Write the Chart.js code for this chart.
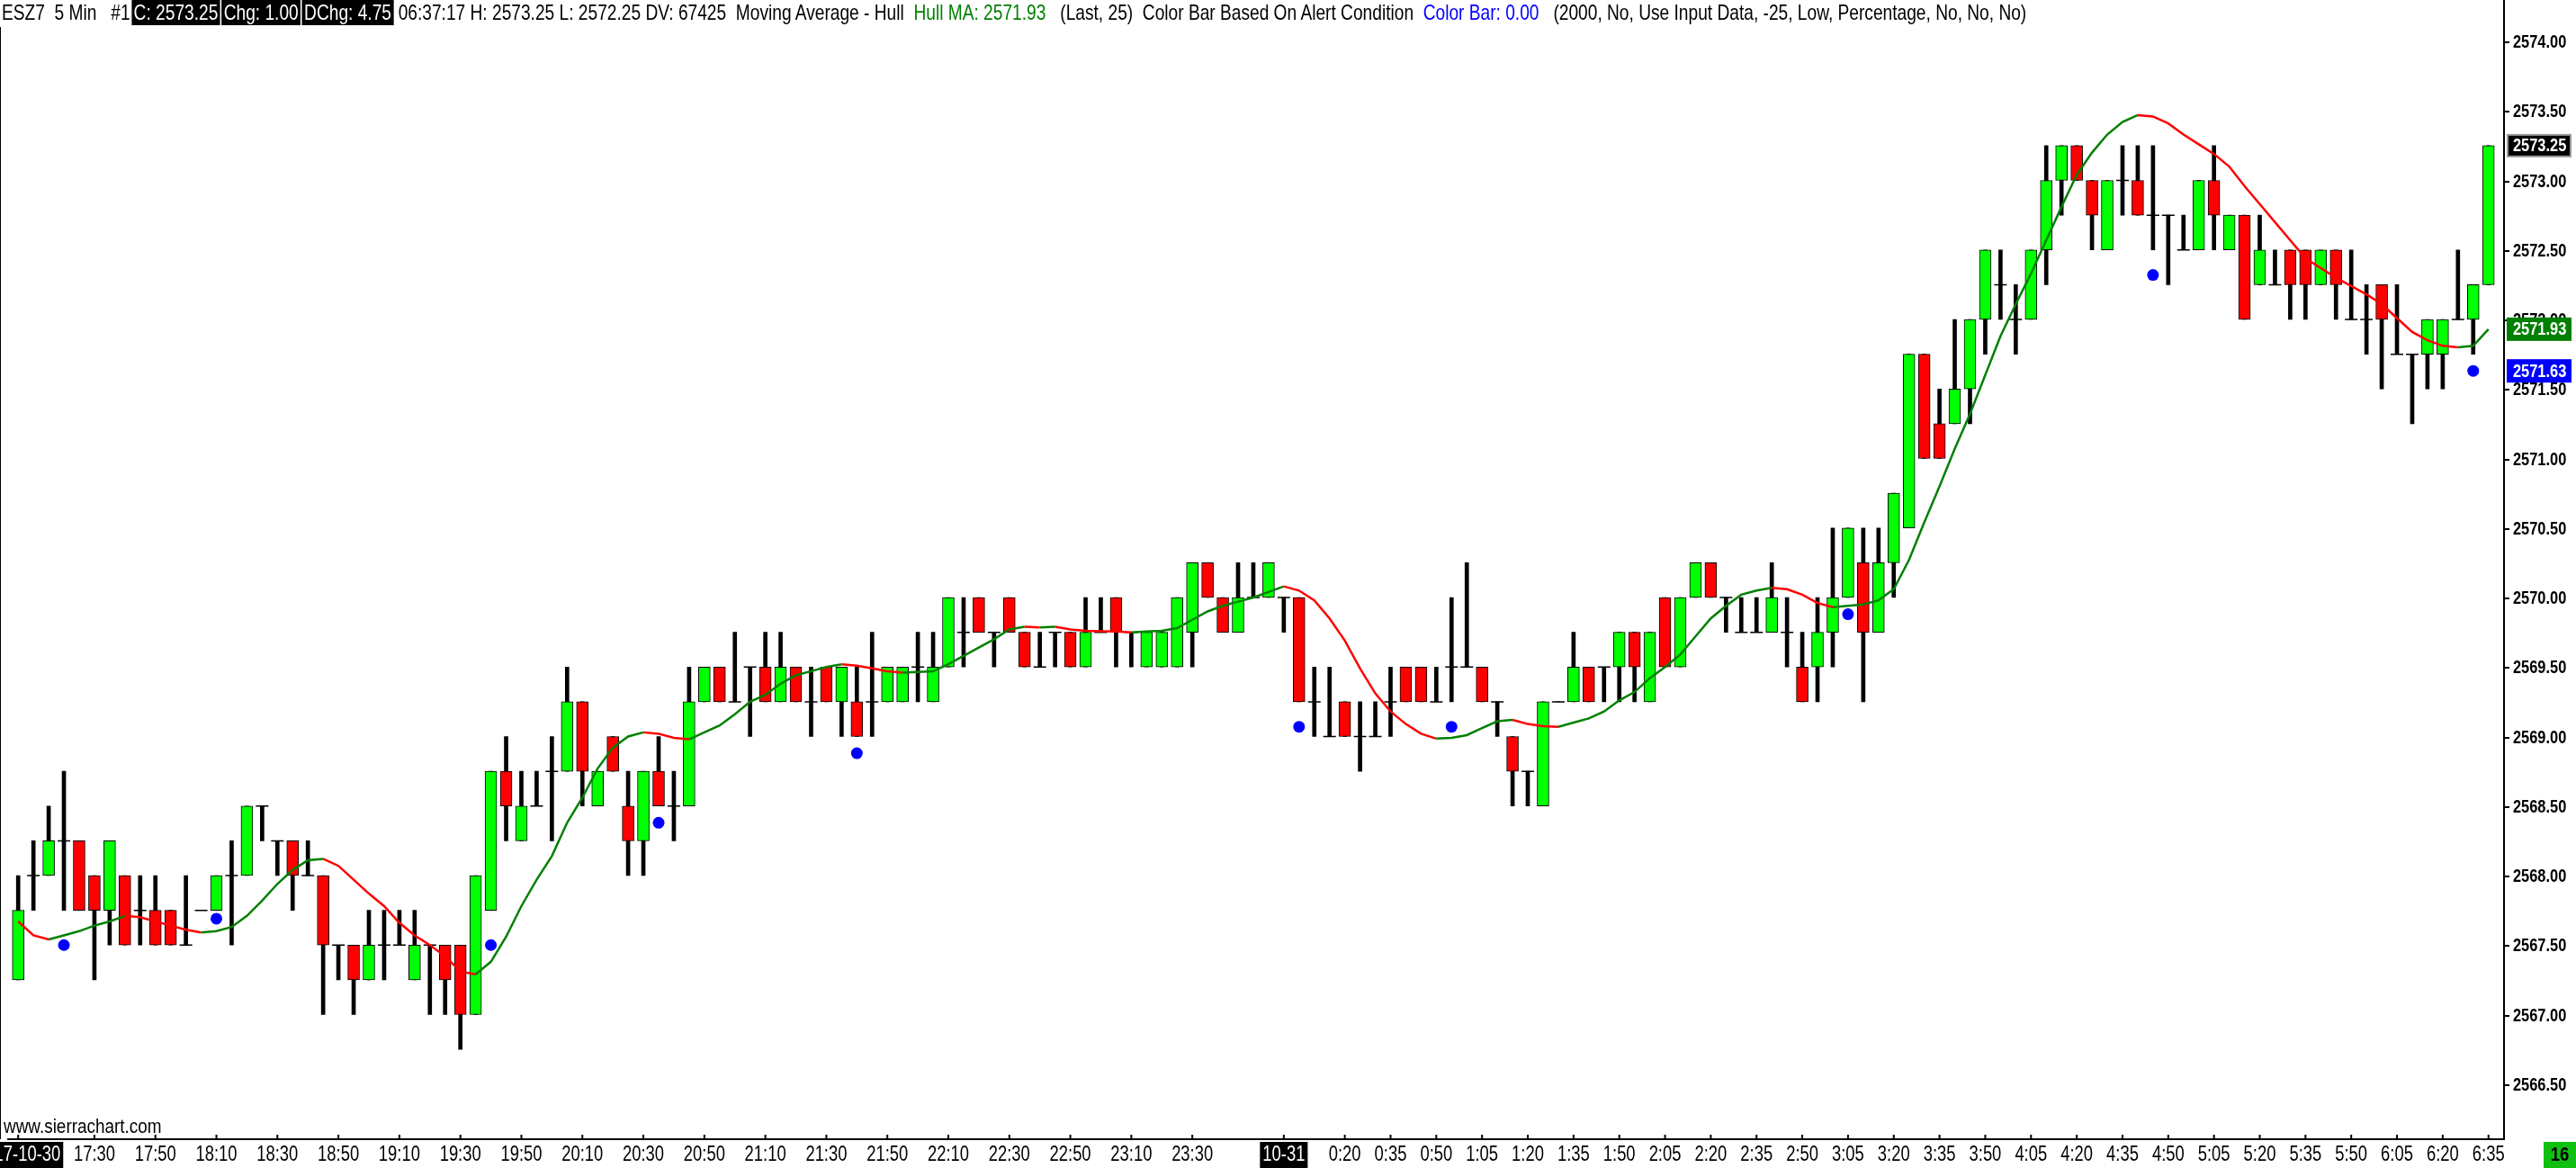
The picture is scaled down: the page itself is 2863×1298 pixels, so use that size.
<!DOCTYPE html>
<html>
<head>
<meta charset="utf-8">
<title>ESZ7 5 Min - Hull Moving Average</title>
<script src="https://cdn.jsdelivr.net/npm/chart.js@4.4.1/dist/chart.umd.min.js"></script>
<style>
  html, body { margin: 0; padding: 0; background: #fff; }
  #wrap { position: relative; width: 2863px; height: 1298px; overflow: hidden; }
  #chart { position: absolute; left: 0; top: 0; }
  #header {
    position: absolute; left: 2px; top: 0;
    font: 24px "Liberation Sans", Arial, sans-serif;
    white-space: pre; color: #000; line-height: 28px;
    transform-origin: left top;
  }
  #header .box { display: inline-block; background: #000; color: #fff; padding: 0 3px; margin-left: 2px; line-height: 28px; }
  #header .ma { color: #008000; }
  #header .cb { color: #0000ff; }
</style>
</head>
<body>
<div id="wrap">
  <canvas id="chart" width="2863" height="1298"></canvas>
  <div id="header">ESZ7  5 Min   #1<span class="box">C: 2573.25</span><span class="box">Chg: 1.00</span><span class="box">DChg: 4.75</span> 06:37:17 H: 2573.25 L: 2572.25 DV: 67425  Moving Average - Hull  <span class="ma">Hull MA: 2571.93</span>   (Last, 25)  Color Bar Based On Alert Condition  <span class="cb">Color Bar: 0.00</span>   (2000, No, Use Input Data, -25, Low, Percentage, No, No, No)</div>
</div>
<script>
// 5 minute bars, 10-30 17:05 -> 10-31 6:35
const barTimes = [];
for (let i = 0, m = 17 * 60 + 5; i < 163; i++, m += 5) {
    const mm = m % (24 * 60);
    barTimes.push(Math.floor(mm / 60) + ':' + String(mm % 60).padStart(2, '0'));
}

const opens = [
    2567.25, 2568.00, 2568.00, 2568.25, 2568.25, 2568.00, 2567.75, 2568.00, 2567.75, 2567.75,
    2567.75, 2567.50, 2567.75, 2567.75, 2568.00, 2568.00, 2568.50, 2568.25, 2568.25, 2568.00,
    2568.00, 2567.50, 2567.50, 2567.25, 2567.50, 2567.50, 2567.25, 2567.50, 2567.50, 2567.50,
    2567.00, 2567.75, 2568.75, 2568.25, 2568.50, 2568.75, 2568.75, 2569.25, 2568.50, 2569.00,
    2568.50, 2568.25, 2568.75, 2568.50, 2568.50, 2569.25, 2569.50, 2569.25, 2569.50, 2569.50,
    2569.25, 2569.50, 2569.25, 2569.50, 2569.25, 2569.25, 2569.25, 2569.25, 2569.25, 2569.50,
    2569.25, 2569.50, 2569.75, 2570.00, 2569.75, 2570.00, 2569.75, 2569.50, 2569.75, 2569.75,
    2569.50, 2569.75, 2570.00, 2569.75, 2569.50, 2569.50, 2569.50, 2569.75, 2570.25, 2570.00,
    2569.75, 2570.00, 2570.00, 2570.00, 2570.00, 2569.25, 2569.00, 2569.25, 2569.00, 2569.00,
    2569.25, 2569.50, 2569.50, 2569.25, 2569.50, 2569.50, 2569.50, 2569.25, 2569.00, 2568.75,
    2568.50, 2569.25, 2569.25, 2569.50, 2569.50, 2569.50, 2569.75, 2569.25, 2570.00, 2569.50,
    2570.00, 2570.25, 2570.00, 2569.75, 2569.75, 2569.75, 2569.75, 2569.50, 2569.50, 2569.75,
    2570.00, 2570.25, 2569.75, 2570.25, 2570.50, 2571.75, 2571.25, 2571.25, 2571.50, 2572.00,
    2572.25, 2572.00, 2572.00, 2572.50, 2573.00, 2573.25, 2573.00, 2572.50, 2573.00, 2573.00,
    2572.75, 2572.75, 2572.50, 2572.50, 2573.00, 2572.50, 2572.75, 2572.25, 2572.25, 2572.50,
    2572.50, 2572.25, 2572.50, 2572.00, 2572.00, 2572.25, 2571.75, 2571.75, 2571.75, 2571.75,
    2572.00, 2572.00, 2572.25
];
const highs = [
    2568.00, 2568.25, 2568.50, 2568.75, 2568.25, 2568.00, 2568.25, 2568.00, 2568.00, 2568.00,
    2567.75, 2568.00, 2567.75, 2568.00, 2568.25, 2568.50, 2568.50, 2568.25, 2568.25, 2568.25,
    2568.00, 2567.50, 2567.50, 2567.75, 2567.75, 2567.75, 2567.75, 2567.50, 2567.50, 2567.50,
    2568.00, 2568.75, 2569.00, 2568.75, 2568.75, 2569.00, 2569.50, 2569.25, 2568.75, 2569.00,
    2568.75, 2568.75, 2569.00, 2568.75, 2569.50, 2569.50, 2569.50, 2569.75, 2569.50, 2569.75,
    2569.75, 2569.50, 2569.50, 2569.50, 2569.50, 2569.50, 2569.75, 2569.50, 2569.50, 2569.75,
    2569.75, 2570.00, 2570.00, 2570.00, 2569.75, 2570.00, 2569.75, 2569.75, 2569.75, 2569.75,
    2570.00, 2570.00, 2570.00, 2569.75, 2569.75, 2569.75, 2570.00, 2570.25, 2570.25, 2570.00,
    2570.25, 2570.25, 2570.25, 2570.00, 2570.00, 2569.50, 2569.50, 2569.25, 2569.25, 2569.25,
    2569.50, 2569.50, 2569.50, 2569.50, 2570.00, 2570.25, 2569.50, 2569.25, 2569.00, 2568.75,
    2569.25, 2569.25, 2569.75, 2569.50, 2569.50, 2569.75, 2569.75, 2569.75, 2570.00, 2570.00,
    2570.25, 2570.25, 2570.00, 2570.00, 2570.00, 2570.25, 2570.00, 2569.75, 2570.00, 2570.50,
    2570.50, 2570.50, 2570.50, 2570.75, 2571.75, 2571.75, 2571.50, 2572.00, 2572.00, 2572.50,
    2572.50, 2572.25, 2572.50, 2573.25, 2573.25, 2573.25, 2573.00, 2573.00, 2573.25, 2573.25,
    2573.25, 2572.75, 2572.75, 2573.00, 2573.25, 2572.75, 2572.75, 2572.75, 2572.50, 2572.50,
    2572.50, 2572.50, 2572.50, 2572.50, 2572.25, 2572.25, 2572.25, 2571.75, 2572.00, 2572.00,
    2572.50, 2572.25, 2573.25
];
const lows = [
    2567.25, 2567.75, 2568.00, 2567.75, 2567.75, 2567.25, 2567.50, 2567.50, 2567.50, 2567.50,
    2567.50, 2567.50, 2567.75, 2567.75, 2567.50, 2568.00, 2568.25, 2568.00, 2567.75, 2568.00,
    2567.00, 2567.25, 2567.00, 2567.25, 2567.25, 2567.50, 2567.25, 2567.00, 2567.00, 2566.75,
    2567.00, 2567.75, 2568.25, 2568.25, 2568.50, 2568.25, 2568.75, 2568.50, 2568.50, 2568.75,
    2568.00, 2568.00, 2568.50, 2568.25, 2568.50, 2569.25, 2569.25, 2569.25, 2569.00, 2569.25,
    2569.25, 2569.25, 2569.00, 2569.25, 2569.00, 2569.00, 2569.00, 2569.25, 2569.25, 2569.25,
    2569.25, 2569.50, 2569.50, 2569.75, 2569.50, 2569.75, 2569.50, 2569.50, 2569.50, 2569.50,
    2569.50, 2569.75, 2569.50, 2569.50, 2569.50, 2569.50, 2569.50, 2569.50, 2570.00, 2569.75,
    2569.75, 2570.00, 2570.00, 2569.75, 2569.25, 2569.00, 2569.00, 2569.00, 2568.75, 2569.00,
    2569.00, 2569.25, 2569.25, 2569.25, 2569.25, 2569.50, 2569.25, 2569.00, 2568.50, 2568.50,
    2568.50, 2569.25, 2569.25, 2569.25, 2569.25, 2569.25, 2569.25, 2569.25, 2569.50, 2569.50,
    2570.00, 2570.00, 2569.75, 2569.75, 2569.75, 2569.75, 2569.50, 2569.25, 2569.25, 2569.50,
    2570.00, 2569.25, 2569.75, 2570.00, 2570.50, 2571.00, 2571.00, 2571.25, 2571.25, 2571.75,
    2572.00, 2571.75, 2572.00, 2572.25, 2572.75, 2573.00, 2572.50, 2572.50, 2572.75, 2572.75,
    2572.50, 2572.25, 2572.50, 2572.50, 2572.50, 2572.50, 2572.00, 2572.25, 2572.25, 2572.00,
    2572.00, 2572.25, 2572.00, 2572.00, 2571.75, 2571.50, 2571.75, 2571.25, 2571.50, 2571.50,
    2572.00, 2571.75, 2572.25
];
const closes = [
    2567.75, 2568.00, 2568.25, 2568.25, 2567.75, 2567.75, 2568.25, 2567.50, 2567.75, 2567.50,
    2567.50, 2567.50, 2567.75, 2568.00, 2568.00, 2568.50, 2568.50, 2568.25, 2568.00, 2568.00,
    2567.50, 2567.50, 2567.25, 2567.50, 2567.50, 2567.50, 2567.50, 2567.50, 2567.25, 2567.00,
    2568.00, 2568.75, 2568.50, 2568.50, 2568.50, 2568.75, 2569.25, 2568.75, 2568.75, 2568.75,
    2568.25, 2568.75, 2568.50, 2568.50, 2569.25, 2569.50, 2569.25, 2569.25, 2569.50, 2569.25,
    2569.50, 2569.25, 2569.25, 2569.25, 2569.50, 2569.00, 2569.25, 2569.50, 2569.50, 2569.50,
    2569.50, 2570.00, 2569.75, 2569.75, 2569.75, 2569.75, 2569.50, 2569.50, 2569.75, 2569.50,
    2569.75, 2569.75, 2569.75, 2569.75, 2569.75, 2569.75, 2570.00, 2570.25, 2570.00, 2569.75,
    2570.00, 2570.00, 2570.25, 2570.00, 2569.25, 2569.25, 2569.00, 2569.00, 2569.00, 2569.00,
    2569.25, 2569.25, 2569.25, 2569.25, 2569.50, 2569.50, 2569.25, 2569.25, 2568.75, 2568.75,
    2569.25, 2569.25, 2569.50, 2569.25, 2569.50, 2569.75, 2569.50, 2569.75, 2569.50, 2570.00,
    2570.25, 2570.00, 2570.00, 2569.75, 2569.75, 2570.00, 2569.75, 2569.25, 2569.75, 2570.00,
    2570.50, 2569.75, 2570.25, 2570.75, 2571.75, 2571.00, 2571.00, 2571.50, 2572.00, 2572.50,
    2572.25, 2572.00, 2572.50, 2573.00, 2573.25, 2573.00, 2572.75, 2573.00, 2573.00, 2572.75,
    2572.75, 2572.75, 2572.50, 2573.00, 2572.75, 2572.75, 2572.00, 2572.50, 2572.25, 2572.25,
    2572.25, 2572.50, 2572.25, 2572.00, 2572.00, 2572.00, 2571.75, 2571.75, 2572.00, 2572.00,
    2572.00, 2572.25, 2573.25
];
// Hull MA (Last, 25)
const hullMA = [
    2567.67, 2567.57, 2567.54, 2567.57, 2567.60, 2567.64, 2567.67, 2567.71, 2567.70, 2567.67,
    2567.64, 2567.61, 2567.59, 2567.60, 2567.63, 2567.71, 2567.82, 2567.94, 2568.04, 2568.11,
    2568.12, 2568.07, 2567.97, 2567.87, 2567.78, 2567.66, 2567.57, 2567.50, 2567.42, 2567.31,
    2567.29, 2567.38, 2567.56, 2567.78, 2567.97, 2568.14, 2568.38, 2568.56, 2568.77, 2568.92,
    2569.00, 2569.03, 2569.02, 2568.99, 2568.98, 2569.03, 2569.08, 2569.16, 2569.25, 2569.30,
    2569.38, 2569.44, 2569.47, 2569.50, 2569.52, 2569.51, 2569.49, 2569.47, 2569.46, 2569.465,
    2569.47, 2569.52, 2569.58, 2569.64, 2569.70, 2569.77, 2569.79, 2569.785, 2569.79, 2569.77,
    2569.76, 2569.757, 2569.755, 2569.75, 2569.755, 2569.76, 2569.78, 2569.84, 2569.90, 2569.94,
    2569.97, 2570.00, 2570.04, 2570.08, 2570.05, 2569.98, 2569.85, 2569.69, 2569.49, 2569.31,
    2569.18, 2569.09, 2569.02, 2568.985, 2568.99, 2569.01, 2569.06, 2569.11, 2569.12, 2569.09,
    2569.075, 2569.07, 2569.10, 2569.13, 2569.18, 2569.26, 2569.32, 2569.42, 2569.50, 2569.59,
    2569.72, 2569.85, 2569.94, 2570.02, 2570.05, 2570.07, 2570.06, 2570.02, 2569.96, 2569.93,
    2569.94, 2569.95, 2569.98, 2570.06, 2570.27, 2570.54, 2570.80, 2571.07, 2571.32, 2571.60,
    2571.88, 2572.11, 2572.33, 2572.57, 2572.81, 2573.04, 2573.20, 2573.33, 2573.42, 2573.47,
    2573.46, 2573.41, 2573.33, 2573.26, 2573.19, 2573.10, 2572.96, 2572.83, 2572.70, 2572.57,
    2572.44, 2572.37, 2572.30, 2572.24, 2572.18, 2572.11, 2572.01, 2571.91, 2571.85, 2571.81,
    2571.80, 2571.81, 2571.93
];

// Color Bar Based On Alert Condition markers
const alertTimes = ['17:20', '18:10', '19:40', '20:35', '21:40', '0:05', '0:55', '3:05', '4:45', '6:30'];
const alertPrices = [2567.50, 2567.69, 2567.50, 2568.38, 2568.88, 2569.07, 2569.07, 2569.88, 2572.32, 2571.63];

const xTickLabels = [
    '17:05', '17:30', '17:50', '18:10', '18:30', '18:50', '19:10', '19:30', '19:50', '20:10',
    '20:30', '20:50', '21:10', '21:30', '21:50', '22:10', '22:30', '22:50', '23:10', '23:30',
    '0:00', '0:20', '0:35', '0:50', '1:05', '1:20', '1:35', '1:50', '2:05', '2:20', '2:35',
    '2:50', '3:05', '3:20', '3:35', '3:50', '4:05', '4:20', '4:35', '4:50', '5:05', '5:20',
    '5:35', '5:50', '6:05', '6:20', '6:35'
];
const dateLabels = { '17:05': '2017-10-30', '0:00': '10-31' };
const yTickValues = [2566.5, 2567, 2567.5, 2568, 2568.5, 2569, 2569.5, 2570, 2570.5,
                     2571, 2571.5, 2572, 2572.5, 2573, 2573.5, 2574];

const UP = '#00ff00', DOWN = '#ff0000';
const MA_UP = '#008000', MA_DOWN = '#ff0000';
const ALERT = '#0000ff';
const SANS = '"Liberation Sans", Arial, sans-serif';

// header squeezed to the narrow width of the original
let hdr = document.getElementById('header');
hdr.style.transform = 'scaleX(' + (2250 / hdr.scrollWidth) + ')';

// split bodies / doji ticks
let bodyPts = [], bodyColors = [], dojiPts = [];
opens.forEach((o, i) => {
    let c = closes[i];
    if (o === c) {
        dojiPts.push({ x: i, y: c });
    } else {
        bodyPts.push({ x: i, y: [o, c] });
        bodyColors.push(c > o ? UP : DOWN);
    }
});
let wickPts = lows.map((l, i) => ({ x: i, y: [l, highs[i]] }));
let maPts = hullMA.map((v, i) => ({ x: i, y: v }));
let alertPts = alertTimes.map((t, k) => ({ x: barTimes.indexOf(t), y: alertPrices[k] }));

// condensed text helper (narrow font look)
function narrowText(ctx, txt, x, y, sx, align) {
    ctx.save();
    ctx.translate(x, y);
    ctx.scale(sx, 1);
    ctx.textAlign = align;
    ctx.fillText(txt, 0, 0);
    ctx.restore();
}

// axis labels, value boxes, footer text
const overlay = {
    id: 'overlay',
    afterDraw(chart) {
        const { ctx, chartArea: a, scales: { x, y } } = chart;
        ctx.save();
        ctx.fillStyle = '#000';
        ctx.fillRect(0, a.top, 1, a.bottom - a.top);
        ctx.fillRect(a.right - 1, 0, 2, a.bottom);
        ctx.textBaseline = 'middle';

        // price labels
        ctx.font = 'bold 20px ' + SANS;
        yTickValues.forEach(v => {
            let py = Math.round(y.getPixelForValue(v));
            ctx.fillStyle = '#000';
            ctx.fillRect(a.right + 1, py, 5, 2);
            narrowText(ctx, v.toFixed(2), a.right + 10, py + 1, 0.82, 'left');
        });

        // time labels
        ctx.font = '23px ' + SANS;
        xTickLabels.forEach(t => {
            let px = x.getPixelForValue(barTimes.indexOf(t));
            ctx.fillStyle = '#000';
            ctx.fillRect(px - 1, a.bottom - 5, 2, 5);
            let txt = dateLabels[t];
            if (txt) {
                let w = ctx.measureText(txt).width * 0.8;
                ctx.fillRect(px - w / 2 - 3, a.bottom + 3, w + 6, chart.height - a.bottom - 3);
                ctx.fillStyle = '#fff';
                narrowText(ctx, txt, px, a.bottom + 18, 0.8, 'center');
            } else {
                narrowText(ctx, t, px, a.bottom + 18, 0.8, 'center');
            }
        });

        // bar counter box
        ctx.fillStyle = '#10c010';
        ctx.fillRect(chart.width - 36, a.bottom + 3, 36, chart.height - a.bottom - 3);
        ctx.fillStyle = '#000';
        ctx.font = 'bold 22px ' + SANS;
        narrowText(ctx, '16', chart.width - 18, a.bottom + 18, 0.84, 'center');

        // price value boxes on the axis
        let last = closes.length - 1;
        let boxes = [
            [closes[last], '#000', '#999'],
            [hullMA[last], MA_UP, MA_UP],
            [alertPrices[alertPrices.length - 1], ALERT, ALERT]
        ];
        ctx.font = 'bold 20px ' + SANS;
        boxes.forEach(([v, bg, edge]) => {
            let py = y.getPixelForValue(v);
            ctx.fillStyle = bg;
            ctx.fillRect(a.right + 4, py - 12, 70, 24);
            ctx.strokeStyle = edge;
            ctx.lineWidth = 2;
            ctx.strokeRect(a.right + 4, py - 12, 70, 24);
            ctx.fillStyle = '#fff';
            narrowText(ctx, v.toFixed(2), a.right + 10, py + 1, 0.82, 'left');
        });

        ctx.fillStyle = '#000';
        ctx.font = '22px ' + SANS;
        narrowText(ctx, 'www.sierrachart.com', 4, a.bottom - 13, 0.86, 'left');
        ctx.restore();
    }
};

let ctx = document.getElementById('chart').getContext('2d');
let priceChart = new Chart(ctx, {
    type: 'bar',
    data: {
        datasets: [
            {
                type: 'line',
                label: 'Color Bar',
                data: alertPts,
                showLine: false,
                pointRadius: 6.5,
                pointBackgroundColor: ALERT,
                pointBorderColor: ALERT,
                pointBorderWidth: 0,
                order: 0
            },
            {
                type: 'line',
                label: 'Hull MA',
                data: maPts,
                borderWidth: 2.5,
                pointRadius: 0,
                tension: 0,
                fill: false,
                borderColor: MA_UP,
                segment: {
                    borderColor: c => c.p1.parsed.y >= c.p0.parsed.y ? MA_UP : MA_DOWN
                },
                order: 1
            },
            {
                type: 'line',
                label: 'Doji',
                data: dojiPts,
                showLine: false,
                pointStyle: 'line',
                pointRadius: 7,
                pointBorderWidth: 1.5,
                pointBorderColor: '#000',
                order: 2
            },
            {
                label: 'Body',
                data: bodyPts,
                backgroundColor: bodyColors,
                borderColor: '#000',
                borderWidth: 1,
                borderSkipped: false,
                barThickness: 13,
                grouped: false,
                order: 3
            },
            {
                label: 'Wick',
                data: wickPts,
                backgroundColor: '#000',
                barThickness: 4,
                grouped: false,
                order: 4
            }
        ]
    },
    options: {
        responsive: false,
        animation: false,
        devicePixelRatio: 1,
        layout: { padding: { top: 30, left: 0, right: 0, bottom: 0 } },
        plugins: {
            legend: { display: false },
            tooltip: { enabled: false }
        },
        scales: {
            x: {
                type: 'linear',
                min: -0.69,
                max: 163.02,
                offset: false,
                ticks: { display: false },
                grid: { display: false },
                border: { display: true, color: '#000', width: 2 },
                afterFit: s => { s.height = 32; }
            },
            y: {
                position: 'right',
                min: 2566.1036,
                max: 2574.1036,
                afterBuildTicks: s => { s.ticks = yTickValues.map(v => ({ value: v })); },
                afterFit: s => { s.width = 80; },
                ticks: { display: false },
                grid: { display: false },
                border: { display: true, color: '#000', width: 2 }
            }
        }
    },
    plugins: [overlay]
});
</script>
</body>
</html>
